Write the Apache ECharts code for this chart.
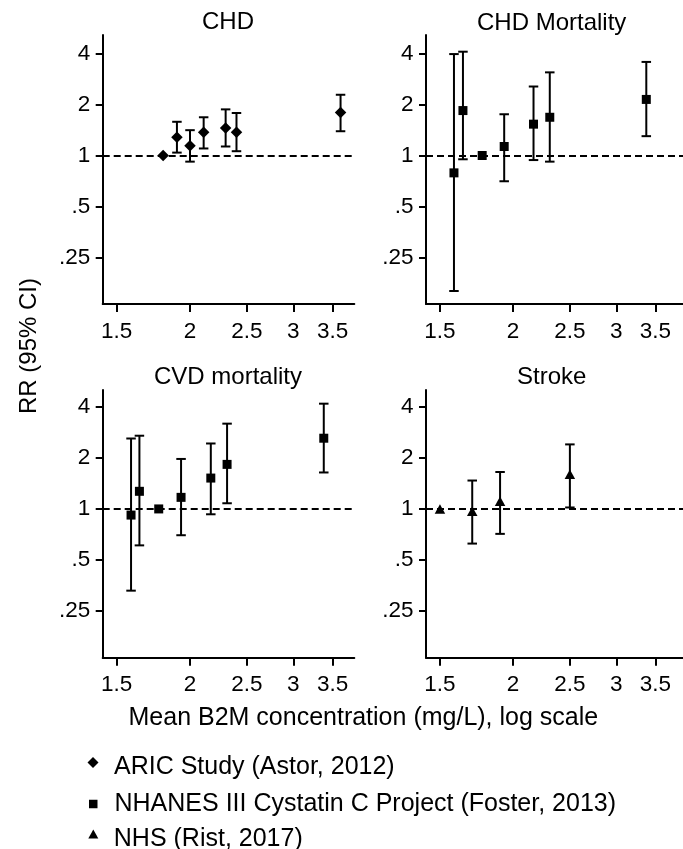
<!DOCTYPE html>
<html><head><meta charset="utf-8">
<script src="https://cdn.jsdelivr.net/npm/echarts@6/dist/echarts.min.js"></script>
<style>html,body{margin:0;padding:0;background:#fff}#c{width:683px;height:849px}</style>
</head><body><div id="c"></div>
<script>
// ---------- data ----------
const panelTitles = ['CHD', 'CHD Mortality', 'CVD mortality', 'Stroke'];
const studyNames = ['ARIC Study (Astor, 2012)', 'NHANES III Cystatin C Project (Foster, 2013)', 'NHS (Rist, 2017)'];
const xTicks = [1.5, 2, 2.5, 3, 3.5];
const xTickLabels = ['1.5', '2', '2.5', '3', '3.5'];
const yTicks = [0.25, 0.5, 1, 2, 4];
const yTickLabels = ['.25', '.5', '1', '2', '4'];
const yTitle = 'RR (95% CI)';
const xTitle = 'Mean B2M concentration (mg/L), log scale';

// CHD - ARIC (diamonds)
const chdX  = [1.80, 1.90, 2.00, 2.11, 2.30, 2.40, 3.61];
const chdRR = [1.00, 1.28, 1.14, 1.37, 1.45, 1.37, 1.79];
const chdLo = [null, 1.04, 0.92, 1.10, 1.13, 1.06, 1.39];
const chdHi = [null, 1.58, 1.41, 1.68, 1.87, 1.78, 2.28];
// CHD mortality - NHANES (squares)
const chdmX  = [1.585, 1.642, 1.771, 1.931, 2.167, 2.31, 3.376];
const chdmRR = [0.79, 1.84, 1.00, 1.13, 1.53, 1.68, 2.14];
const chdmLo = [0.159, 0.95, null, 0.705, 0.94, 0.92, 1.30];
const chdmHi = [3.96, 4.09, null, 1.75, 2.55, 3.09, 3.56];
// CVD mortality - NHANES (squares)
const cvdX  = [1.587, 1.64, 1.769, 1.931, 2.17, 2.313, 3.38];
const cvdRR = [0.92, 1.27, 1.00, 1.17, 1.52, 1.83, 2.61];
const cvdLo = [0.33, 0.61, null, 0.70, 0.93, 1.08, 1.64];
const cvdHi = [2.60, 2.70, null, 1.97, 2.43, 3.18, 4.17];
// Stroke - NHS (triangles)
const strX  = [1.50, 1.703, 1.90, 2.50];
const strRR = [1.00, 0.97, 1.11, 1.60];
const strLo = [null, 0.625, 0.713, 1.02];
const strHi = [null, 1.47, 1.65, 2.40];

// ---------- layout / style ----------
const FONT = 'Liberation Sans';
const grids = [
  {left: 102.7, top: 35,  width: 251.6, height: 269},
  {left: 426,   top: 35,  width: 257,   height: 269},
  {left: 102.7, top: 390, width: 251.6, height: 267.7},
  {left: 426,   top: 390, width: 257,   height: 267.7}
];
const xRanges = [[1.42, 3.81], [1.42, 3.90], [1.42, 3.81], [1.42, 3.90]];
const yRanges = [[0.1333, 5.13], [0.1333, 5.13], [0.1329, 5.02], [0.1329, 5.02]];

const panels = [
  {x: chdX, rr: chdRR, lo: chdLo, hi: chdHi, study: 0, symbol: 'diamond', size: 11.5},
  {x: chdmX, rr: chdmRR, lo: chdmLo, hi: chdmHi, study: 1, symbol: 'rect', size: 9},
  {x: cvdX, rr: cvdRR, lo: cvdLo, hi: cvdHi, study: 1, symbol: 'rect', size: 9},
  {x: strX, rr: strRR, lo: strLo, hi: strHi, study: 2, symbol: 'triangle', size: [10.5, 9.5]}
];

const lx = v => Math.log(v);
const ly = v => Math.log2(v);
function fmtFrom(ticks, labels, tf) {
  return v => {
    const i = ticks.findIndex(t => Math.abs(tf(t) - v) < 1e-6);
    return i >= 0 ? labels[i] : '';
  };
}

const TICKFS = 22.5;
const xAxes = grids.map((g, i) => ({
  gridIndex: i, type: 'value',
  min: lx(xRanges[i][0]), max: lx(xRanges[i][1]),
  axisLine: {show: true, onZero: false, lineStyle: {color: '#000', width: 2}},
  axisTick: {show: true, length: 8, lineStyle: {color: '#000', width: 2}, customValues: xTicks.map(lx)},
  axisLabel: {show: true, customValues: xTicks.map(lx), formatter: fmtFrom(xTicks, xTickLabels, lx),
    color: '#000', fontSize: TICKFS, fontFamily: FONT, margin: 16},
  splitLine: {show: false}
}));
const yAxes = grids.map((g, i) => ({
  gridIndex: i, type: 'value',
  min: ly(yRanges[i][0]), max: ly(yRanges[i][1]),
  axisLine: {show: true, onZero: false, lineStyle: {color: '#000', width: 2}},
  axisTick: {show: true, length: 7, lineStyle: {color: '#000', width: 2}, customValues: yTicks.map(ly)},
  axisLabel: {show: true, customValues: yTicks.map(ly), formatter: fmtFrom(yTicks, yTickLabels, ly),
    color: '#000', fontSize: TICKFS, fontFamily: FONT, margin: 12.5},
  splitLine: {show: false}
}));

const series = [];
panels.forEach((p, i) => {
  const bars = [];
  p.x.forEach((x, k) => {
    if (p.lo[k] != null) bars.push([lx(x), ly(p.lo[k]), ly(p.hi[k])]);
  });
  series.push({
    type: 'custom', xAxisIndex: i, yAxisIndex: i, silent: true, z: 3,
    renderItem: (params, api) => {
      const x = api.value(0);
      const a = api.coord([x, api.value(1)]);
      const b = api.coord([x, api.value(2)]);
      const hw = 4.75;
      const st = {stroke: '#000', lineWidth: 2};
      return {type: 'group', children: [
        {type: 'line', shape: {x1: a[0], y1: a[1], x2: b[0], y2: b[1]}, style: st},
        {type: 'line', shape: {x1: a[0] - hw, y1: a[1], x2: a[0] + hw, y2: a[1]}, style: st},
        {type: 'line', shape: {x1: b[0] - hw, y1: b[1], x2: b[0] + hw, y2: b[1]}, style: st}
      ]};
    },
    data: bars
  });
  series.push({
    type: 'scatter', name: studyNames[p.study], xAxisIndex: i, yAxisIndex: i, z: 4,
    symbol: p.symbol, symbolSize: p.size,
    itemStyle: {color: '#000', opacity: 1},
    data: p.x.map((x, k) => [lx(x), ly(p.rr[k])]),
    markLine: {silent: true, symbol: 'none', animation: false, label: {show: false},
      lineStyle: {type: [7, 4], color: '#000', width: 2},
      data: [{yAxis: 0}]}
  });
});

const LEGFS = 25;
// legend icons: diamond / triangle sit a little above the text centre (degenerate sub-path extends the box)
const legendIcons = [
  'path://M5.5,0L11,5.5L5.5,11L0,5.5Z M5.5,21L5.5,21',
  'rect',
  'path://M5,0L10,9L0,9Z M5,19L5,19'
];
const legendLayout = [
  {left: 87.5, top: 754.5, w: 11, h: 21, pad: [0, 0, 0, 10.5]},
  {left: 89,   top: 791,   w: 8.5, h: 8.5, pad: [0, 0, 0, 12]},
  {left: 88.3, top: 826,   w: 10, h: 19, pad: [0, 0, 0, 10.5]}
];
const legends = studyNames.map((n, k) => ({
  show: true, orient: 'vertical', selectedMode: false,
  left: legendLayout[k].left, top: legendLayout[k].top,
  itemWidth: legendLayout[k].w, itemHeight: legendLayout[k].h, padding: 0,
  data: [{name: n, icon: legendIcons[k]}],
  itemStyle: {color: '#000'},
  textStyle: {color: '#000', fontSize: LEGFS, fontFamily: FONT, lineHeight: 26, padding: legendLayout[k].pad}
}));

const titleCenters = [[228, 22.5], [551.7, 23.5], [228, 377], [551.7, 377.5]];
const graphics = panelTitles.map((t, i) => ({
  type: 'text', x: titleCenters[i][0], y: titleCenters[i][1],
  style: {text: t, align: 'center', verticalAlign: 'middle', fill: '#000', fontSize: 24, fontFamily: FONT}
}));
graphics.push({type: 'text', x: 29, y: 346, rotation: Math.PI / 2,
  style: {text: yTitle, align: 'center', verticalAlign: 'middle', fill: '#000', fontSize: 24, fontFamily: FONT}});
graphics.push({type: 'text', x: 128.5, y: 718,
  style: {text: xTitle, align: 'left', verticalAlign: 'middle', fill: '#000', fontSize: 25, fontFamily: FONT}});

const chart = echarts.init(document.getElementById('c'), null, {renderer: 'canvas'});
chart.setOption({
  animation: false,
  backgroundColor: '#fff',
  grid: grids.map(g => Object.assign({containLabel: false}, g)),
  xAxis: xAxes,
  yAxis: yAxes,
  legend: legends,
  graphic: graphics,
  series: series
});
</script>
</body></html>
